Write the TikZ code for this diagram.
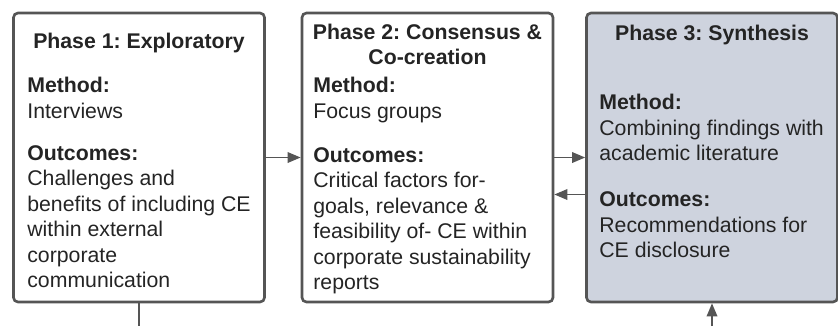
\documentclass[tikz,border=0pt]{standalone}
\usepackage{fontspec}
\setmainfont{Liberation Sans}
\usetikzlibrary{calc,arrows.meta}
\frenchspacing

\definecolor{linegray}{RGB}{85,85,85}
\definecolor{textgray}{RGB}{36,36,36}
\definecolor{synthfill}{RGB}{206,211,222}

\tikzset{
  phase/.style={draw=linegray,line width=1.5pt,rounded corners=2.5pt,
    minimum width=5.02cm,minimum height=5.78cm,inner sep=0pt},
  title/.style={text=textgray,font=\fontsize{12.1}{14.5}\selectfont\bfseries,
    align=center,inner sep=0pt},
  body/.style={text=textgray,font=\fontsize{12.1}{14.5}\selectfont,
    align=left,anchor=north west,inner sep=0pt},
  flow/.style={draw=linegray,line width=1.1pt,-{Triangle[length=7.5pt,width=6pt]}}
}

\begin{document}
\begin{tikzpicture}[x=0.02cm,y=-0.02cm]
  \useasboundingbox (0,0) rectangle (838,326);

  % the three phases
  \node[phase] (p1) at (139,157.5) {};
  \node[phase] (p2) at (427.5,157.5) {};
  \node[phase,fill=synthfill] (p3) at (712,157.5) {};

  \node[title] (t1) at (139,43) {Phase 1: Exploratory};
  \node[title] (t2) at (427.5,44.5) {Phase 2: Consensus \&\\Co-creation};
  \node[title] (t3) at (712,35) {Phase 3: Synthesis};

  \node[body] (b1) at (27,77) {\textbf{Method:}\\Interviews\\[9.4pt]\textbf{Outcomes:}\\Challenges and\\benefits of including CE\\within external\\corporate\\communication};
  \node[body] (b2) at (313,77) {\textbf{Method:}\\Focus groups\\[10.5pt]\textbf{Outcomes:}\\Critical factors for-\\goals, relevance \&\\feasibility of- CE within\\corporate sustainability\\reports};
  \node[body] (b3) at (599,94) {\textbf{Method:}\\Combining findings with\\academic literature\\[11.6pt]\textbf{Outcomes:}\\Recommendations for\\CE disclosure};

  % connectors
  \draw[flow] (p1) -- (p2);
  \draw[flow] (p2) -- (p3);
  \coordinate (back) at ($ (p3.west) + (0,37) $);
  \draw[flow] (back) -- (p2.east |- back);

  \coordinate (down) at (139,326);
  \coordinate (up) at (712,326);
  \draw[draw=linegray,line width=1.1pt] (p1.south) -- (down);
  \draw[flow] (up) -- (p3.south);
\end{tikzpicture}
\end{document}
